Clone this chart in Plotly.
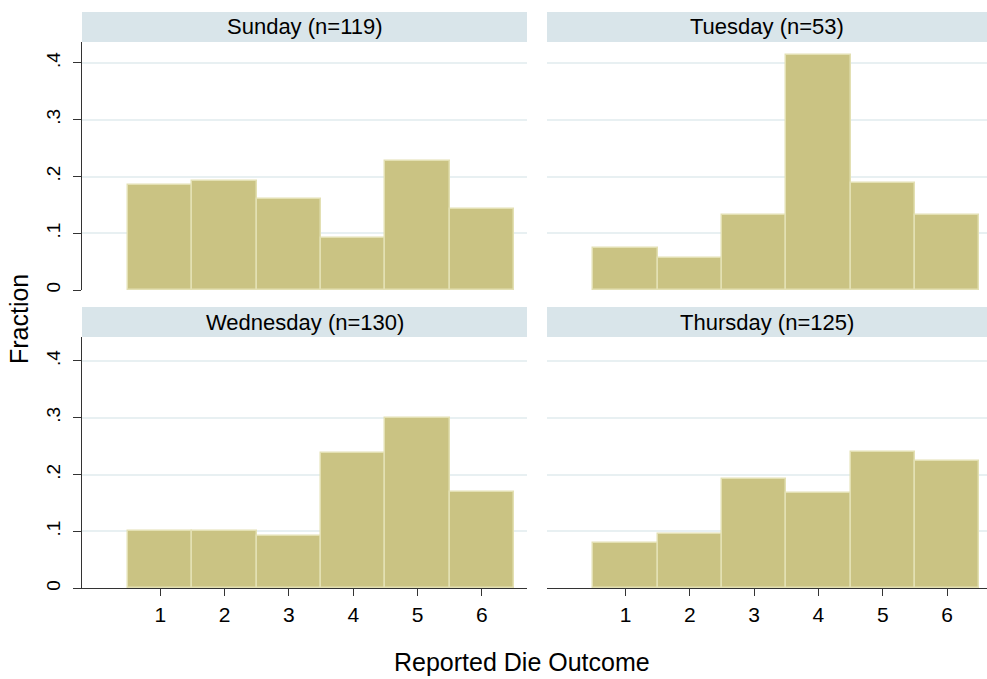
import plotly.graph_objects as go

# ---- data ----
outcomes = [1, 2, 3, 4, 5, 6]
x_tick_labels = ["1", "2", "3", "4", "5", "6"]
y_tick_vals = [0, 0.1, 0.2, 0.3, 0.4]
y_tick_labels = ["0", ".1", ".2", ".3", ".4"]
panel_titles = ["Sunday (n=119)", "Tuesday (n=53)", "Wednesday (n=130)", "Thursday (n=125)"]
sunday = [0.185, 0.193, 0.160, 0.092, 0.227, 0.143]
tuesday = [0.075, 0.057, 0.132, 0.415, 0.189, 0.132]
wednesday = [0.100, 0.100, 0.092, 0.238, 0.300, 0.169]
thursday = [0.080, 0.096, 0.192, 0.168, 0.240, 0.224]
series = [sunday, tuesday, wednesday, thursday]

W, H = 987, 679
FONT = "Liberation Sans, Arial, sans-serif"
BAR_FILL = "#cac383"
BAR_LINE = "#e3e0b3"
GRID = "#e8f0f2"
STRIP = "#d9e5ea"
AXIS = "#333333"


def fx(p):
    return p / W


def fy(p):
    return 1 - p / H


# panel pixel geometry: (x0, x1, y_top, y_bottom)
panels = [
    (82, 527, 42, 291),
    (547, 987, 42, 291),
    (82, 527, 338, 590),
    (547, 987, 338, 590),
]
strips = [(12, 42), (12, 42), (308, 338), (308, 338)]
x_ranges = [[-0.216, 6.70], [-0.220, 6.62], [-0.216, 6.70], [-0.220, 6.62]]
y_ranges = [[0, 0.437], [0, 0.437], [0, 0.442], [0, 0.442]]

fig = go.Figure()
layout = dict(
    width=W, height=H,
    margin=dict(l=0, r=0, t=0, b=0),
    paper_bgcolor="white", plot_bgcolor="white",
    showlegend=False,
    font=dict(family=FONT, color="black"),
    bargap=0,
)

shapes = []
annotations = []

for i, vals in enumerate(series):
    k = "" if i == 0 else str(i + 1)
    x0, x1, yt, yb = panels[i]
    left = i % 2 == 0
    bottom = i >= 2
    fig.add_trace(go.Bar(
        x=outcomes, y=vals, width=1,
        marker=dict(color=BAR_FILL, line=dict(color=BAR_LINE, width=1.5)),
        xaxis="x" + k, yaxis="y" + k, hoverinfo="x+y",
    ))
    layout["xaxis" + k] = dict(
        domain=[fx(x0), fx(x1)], range=x_ranges[i], anchor="y" + k,
        tickmode="array", tickvals=outcomes, ticktext=x_tick_labels,
        showgrid=False, zeroline=False,
        showline=bottom, linecolor=AXIS, linewidth=1.3,
        ticks="outside" if bottom else "", ticklen=7, tickcolor=AXIS, tickwidth=1.3,
        showticklabels=bottom, tickfont=dict(size=21, family=FONT, color="black"),
    )
    layout["yaxis" + k] = dict(
        domain=[fy(yb), fy(yt)], range=y_ranges[i], anchor="x" + k,
        tickmode="array", tickvals=y_tick_vals, ticktext=y_tick_labels,
        showgrid=True, gridcolor=GRID, gridwidth=1.5,
        zeroline=False,
        showline=left, linecolor=AXIS, linewidth=1.3,
        ticks="outside" if left else "", ticklen=8, tickcolor=AXIS, tickwidth=1.3,
        showticklabels=left, tickangle=-90, ticklabelstandoff=5,
        tickfont=dict(size=19, family=FONT, color="black"),
    )
    s0, s1 = strips[i]
    shapes.append(dict(type="rect", xref="paper", yref="paper",
                       x0=fx(x0), x1=fx(x1), y0=fy(s1), y1=fy(s0),
                       fillcolor=STRIP, line=dict(width=0), layer="below"))
    annotations.append(dict(text=panel_titles[i], xref="paper", yref="paper",
                            x=fx((x0 + x1) / 2), y=fy((s0 + s1) / 2),
                            xanchor="center", yanchor="middle", showarrow=False,
                            font=dict(size=22, family=FONT, color="black")))

annotations.append(dict(text="Reported Die Outcome", xref="paper", yref="paper",
                        x=fx(522), y=fy(664), xanchor="center", yanchor="middle",
                        showarrow=False, font=dict(size=25, family=FONT, color="black")))
annotations.append(dict(text="Fraction", xref="paper", yref="paper",
                        x=fx(19), y=fy(320), xanchor="center", yanchor="middle",
                        textangle=-90, showarrow=False,
                        font=dict(size=25, family=FONT, color="black")))

layout["shapes"] = shapes
layout["annotations"] = annotations
fig.update_layout(**layout)
fig.write_html(
    "out.html",
    config={"displayModeBar": False},
    post_script="document.body.style.margin='0';document.body.style.padding='0';"
                "document.documentElement.style.overflow='hidden';",
)
